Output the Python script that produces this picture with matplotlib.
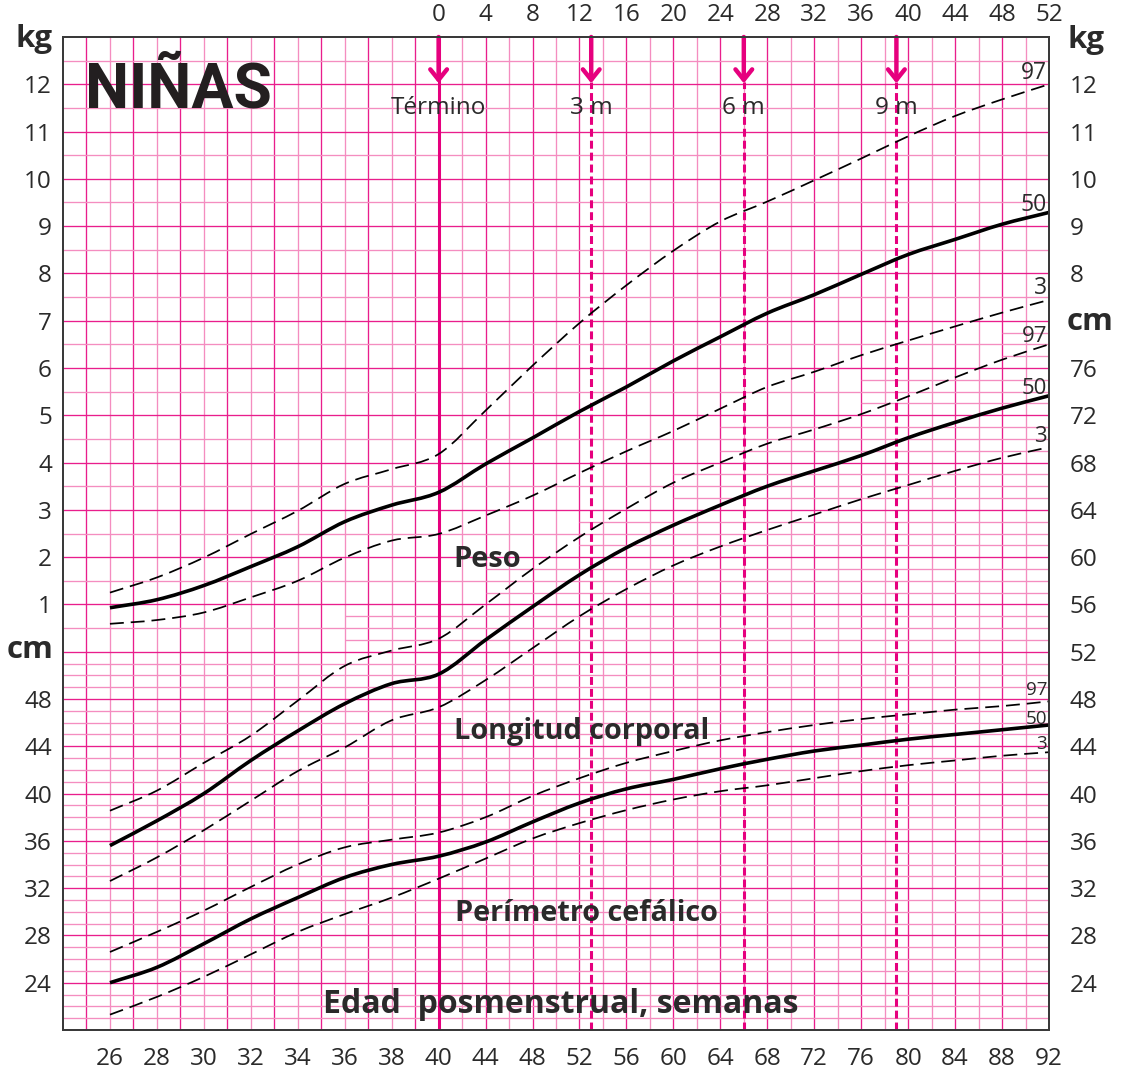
import numpy as np
import matplotlib
matplotlib.use("Agg")
import matplotlib.pyplot as plt
from matplotlib.path import Path
from matplotlib.patches import PathPatch
import matplotlib.transforms as mtransforms

plt.rcParams['font.family'] = ['Open Sans', 'DejaVu Sans']

# ---------------- data ----------------
pma_weeks = [26, 28, 30, 32, 34, 36, 38, 40, 44, 48, 52, 56, 60, 64, 68, 72, 76, 80, 84, 88, 92]

weight_p3 = [0.59, 0.67, 0.83, 1.15, 1.50, 1.99, 2.35, 2.49, 2.88, 3.30, 3.78, 4.24, 4.67, 5.14,
             5.60, 5.92, 6.27, 6.58, 6.88, 7.17, 7.44]
weight_p50 = [0.93, 1.10, 1.40, 1.80, 2.22, 2.75, 3.10, 3.37, 3.97, 4.52, 5.08, 5.60, 6.15, 6.66,
              7.16, 7.55, 7.98, 8.40, 8.72, 9.04, 9.29]
weight_p97 = [1.25, 1.57, 1.99, 2.49, 2.98, 3.55, 3.86, 4.18, 5.10, 6.05, 6.95, 7.75, 8.48, 9.10,
              9.52, 9.97, 10.43, 10.90, 11.33, 11.68, 12.00]

length_p3 = [32.6, 34.6, 36.9, 39.4, 41.9, 43.9, 46.2, 47.3, 49.6, 52.3, 55.0, 57.3, 59.3, 60.9,
             62.3, 63.6, 64.9, 66.1, 67.3, 68.4, 69.3]
length_p50 = [35.6, 37.7, 40.0, 42.8, 45.3, 47.6, 49.3, 50.1, 53.0, 55.8, 58.5, 60.8, 62.7, 64.4,
              66.0, 67.3, 68.6, 70.1, 71.4, 72.6, 73.65]
length_p97 = [38.55, 40.25, 42.6, 44.9, 47.86, 50.8, 52.1, 53.1, 56.0, 59.0, 61.7, 64.1, 66.3, 68.0,
              69.6, 70.8, 72.1, 73.6, 75.2, 76.7, 78.0]

head_p3 = [21.3, 22.8, 24.5, 26.4, 28.3, 29.8, 31.2, 32.8, 34.5, 36.2, 37.5, 38.6, 39.5, 40.2,
           40.7, 41.3, 41.9, 42.4, 42.8, 43.2, 43.5]
head_p50 = [24.0, 25.3, 27.3, 29.4, 31.2, 32.9, 34.0, 34.7, 35.9, 37.6, 39.2, 40.4, 41.2, 42.1,
            42.9, 43.6, 44.1, 44.6, 45.0, 45.4, 45.8]
head_p97 = [26.6, 28.3, 30.1, 32.1, 34.0, 35.45, 36.1, 36.7, 38.0, 39.8, 41.3, 42.6, 43.6, 44.5,
            45.2, 45.8, 46.3, 46.7, 47.1, 47.4, 47.8]

bottom_ticks = [26, 28, 30, 32, 34, 36, 38, 40, 44, 48, 52, 56, 60, 64, 68, 72, 76, 80, 84, 88, 92]
top_ticks = [0, 4, 8, 12, 16, 20, 24, 28, 32, 36, 40, 44, 48, 52]
kg_left_ticks = [1, 2, 3, 4, 5, 6, 7, 8, 9, 10, 11, 12]
cm_left_ticks = [24, 28, 32, 36, 40, 44, 48]
kg_right_ticks = [8, 9, 10, 11, 12]
cm_right_ticks = [24, 28, 32, 36, 40, 44, 48, 52, 56, 60, 64, 68, 72, 76]
month_pma = [53, 66, 79]
month_labels = ['3 m', '6 m', '9 m']
percentiles = ['3', '50', '97']

# ---------------- styles ----------------
MAG = '#e6007e'
DARK = '#e91e8c'
LIGHT = '#f48dc0'
TXT = '#2a2a2a'


def fwd(p):
    p = np.asarray(p, dtype=float)
    return np.where(p <= 40, p - 24, 16 + (p - 40) / 2.0)


def inv(u):
    u = np.asarray(u, dtype=float)
    return np.where(u <= 16, u + 24, 40 + (u - 16) * 2.0)


def smooth_path(xs, ys):
    xs = np.asarray(xs, float)
    ys = np.asarray(ys, float)
    u = fwd(xs)
    n = len(u)
    m = np.empty(n)
    m[0] = (ys[1] - ys[0]) / (u[1] - u[0])
    m[-1] = (ys[-1] - ys[-2]) / (u[-1] - u[-2])
    for i in range(1, n - 1):
        m[i] = (ys[i + 1] - ys[i - 1]) / (u[i + 1] - u[i - 1])
    verts = [(xs[0], ys[0])]
    codes = [Path.MOVETO]
    for i in range(n - 1):
        h = u[i + 1] - u[i]
        c1 = (float(inv(u[i] + h / 3)), ys[i] + m[i] * h / 3)
        c2 = (float(inv(u[i + 1] - h / 3)), ys[i + 1] - m[i + 1] * h / 3)
        verts += [c1, c2, (xs[i + 1], ys[i + 1])]
        codes += [Path.CURVE4] * 3
    return Path(verts, codes)


fig = plt.figure(figsize=(11.27, 10.72), dpi=100)
ax = fig.add_axes([63 / 1127, 1 - 1030 / 1072, 986 / 1127, 993 / 1072])
ax.set_xscale('function', functions=(fwd, inv))
ax.set_xlim(24, 92)
ax.set_ylim(-8, 13)
ax.set_autoscale_on(False)

# ---- grid ----
glw = 0.95
for p in range(25, 40):
    ax.axvline(p, color=DARK if p % 2 else LIGHT, lw=glw, zorder=1)
for p in range(42, 92, 2):
    ax.axvline(p, color=DARK if p % 4 == 0 else LIGHT, lw=glw, zorder=1)
for k in range(-15, 26):
    v = k * 0.5
    ax.axhline(v, color=DARK if k % 2 == 0 else LIGHT, lw=glw, zorder=1)
for v in np.arange(-7.75, 0, 0.5):
    ax.axhline(v, color=LIGHT, lw=glw, zorder=1)
fine_levels = [(0.25, 36), (0.75, 36), (1.25, 44), (1.75, 44), (2.25, 52), (2.75, 52),
               (3.25, 60), (3.75, 60), (4.25, 64), (4.75, 64), (5.25, 76), (5.75, 76),
               (6.25, 88), (6.75, 88)]
for v, start in fine_levels:
    ax.hlines(v, start, 92, color=LIGHT, lw=glw, zorder=1)

# ---- term & month lines ----
ax.axvline(40, color=MAG, lw=2.2, zorder=2)
for p in month_pma:
    ax.plot([p, p], [-8, 12.05], color=MAG, lw=2.2, ls=(0, (2.6, 1.3)), zorder=2)
for p in [40] + month_pma:
    ax.annotate('', xy=(p, 12.02), xytext=(p, 13.0),
                arrowprops=dict(arrowstyle='->,head_length=0.75,head_width=0.6', lw=3.2,
                                color=MAG, shrinkA=0, shrinkB=0, mutation_scale=10),
                annotation_clip=False, zorder=3)

# ---- axes for cm ----
ax2 = ax.twinx()
ax2.set_ylim(20, 104)
ax2.set_autoscale_on(False)

dash = (0, (8.0, 4.0))
for vals, target in [(weight_p3, ax), (weight_p50, ax), (weight_p97, ax),
                     (length_p3, ax2), (length_p50, ax2), (length_p97, ax2),
                     (head_p3, ax2), (head_p50, ax2), (head_p97, ax2)]:
    solid = vals in (weight_p50, length_p50, head_p50)
    patch = PathPatch(smooth_path(pma_weeks, vals), fill=False, edgecolor='black',
                      lw=2.6 if solid else 1.25, linestyle='-' if solid else dash,
                      capstyle='butt', joinstyle='round', transform=target.transData, zorder=4)
    target.add_patch(patch)

# ---- top axis ----
axt = ax.twiny()
axt.set_xscale('function', functions=(lambda w: fwd(np.asarray(w) + 40), lambda t: inv(t) - 40))
axt.set_xlim(-16, 52)
axt.set_xticks(top_ticks, [str(t) for t in top_ticks])
axt.tick_params(axis='x', length=0, pad=7, labelsize=17.5, colors=TXT)

# ---- ticks ----
ax.set_xticks(bottom_ticks, [str(t) for t in bottom_ticks])
ax.tick_params(axis='x', length=0, pad=12, labelsize=17.5, colors=TXT)
left_pos = kg_left_ticks + [(c - 52) / 4 for c in cm_left_ticks]
left_lab = [str(t) for t in kg_left_ticks] + [str(c) for c in cm_left_ticks]
ax.set_yticks(left_pos, left_lab)
ax.tick_params(axis='y', length=0, pad=8, labelsize=17.5, colors=TXT)
right_pos = cm_right_ticks + [52 + 4 * k for k in kg_right_ticks]
right_lab = [str(c) for c in cm_right_ticks] + [str(k) for k in kg_right_ticks]
ax2.set_yticks(right_pos, right_lab)
ax2.tick_params(axis='y', length=0, pad=15, labelsize=17.5, colors=TXT)

for a in (ax, ax2, axt):
    for s in a.spines.values():
        s.set_color('#3a3a3a')
        s.set_linewidth(1.3)
    a.spines['top'].set_zorder(5)

# ---- texts ----
bl = mtransforms.blended_transform_factory(ax.transAxes, ax.transData)
bl2 = mtransforms.blended_transform_factory(ax2.transAxes, ax2.transData)
ax.text(0.0223, 11.5, 'NIÑAS', transform=bl, fontsize=45, fontweight='bold',
        family=['Roboto', 'DejaVu Sans'], ha='left', va='baseline', color='#231f20')
ax.text(40, 11.37, 'Término', fontsize=17.5, ha='center', va='baseline', color=TXT, zorder=6)
for p, lab in zip(month_pma, month_labels):
    ax.text(p, 11.37, lab, fontsize=17.5, ha='center', va='baseline', color=TXT, zorder=6)

ax.text(0.3955, 1.8, 'Peso', transform=bl, fontsize=21, fontweight='bold',
        ha='left', va='baseline', color=TXT, zorder=6)
ax.text(0.3965, -1.84, 'Longitud corporal', transform=bl, fontsize=20.8, fontweight='bold',
        ha='left', va='baseline', color=TXT, zorder=6)
ax.text(0.3975, -5.69, 'Perímetro cefálico', transform=bl, fontsize=20.8, fontweight='bold',
        ha='left', va='baseline', color=TXT, zorder=6)
ax.text(0.2637, -7.65, 'Edad  posmenstrual, semanas', transform=bl, fontsize=23,
        fontweight='bold', ha='left', va='baseline', color=TXT, zorder=6)

# percentile labels
for lab, y in zip(percentiles, [7.57, 9.32, 12.11]):
    ax.text(0.998, y, lab, transform=bl, fontsize=16.5, ha='right', va='baseline', color=TXT, zorder=6)
for lab, y in zip(percentiles, [69.7, 73.8, 78.2]):
    ax2.text(0.998, y, lab, transform=bl2, fontsize=16, ha='right', va='baseline', color=TXT, zorder=6)
for lab, y in zip(percentiles, [43.8, 45.9, 48.3]):
    ax2.text(0.998, y, lab, transform=bl2, fontsize=13.5, ha='right', va='baseline', color=TXT, zorder=6)

# unit labels
fig.text(53 / 1127, 1 - 47 / 1072, 'kg', fontsize=22.5, fontweight='bold', ha='right', va='baseline', color=TXT)
fig.text(53 / 1127, 1 - 658 / 1072, 'cm', fontsize=22.5, fontweight='bold', ha='right', va='baseline', color=TXT)
fig.text(1067 / 1127, 1 - 48 / 1072, 'kg', fontsize=22.5, fontweight='bold', ha='left', va='baseline', color=TXT)
fig.text(1067 / 1127, 1 - 330 / 1072, 'cm', fontsize=22.5, fontweight='bold', ha='left', va='baseline', color=TXT)

fig.savefig('out.png', dpi=100, facecolor='white')
